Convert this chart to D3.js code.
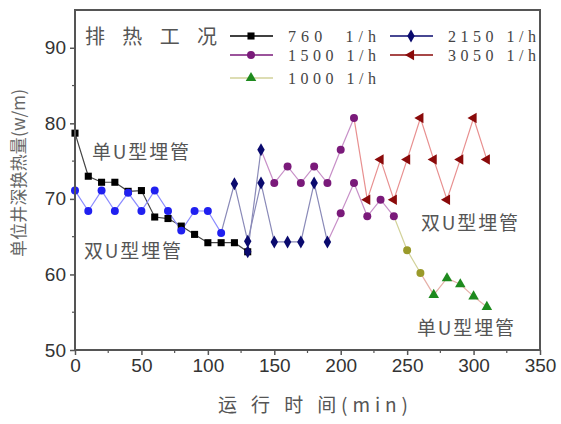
<!DOCTYPE html>
<html><head><meta charset="utf-8">
<script src="https://cdn.jsdelivr.net/npm/d3@7"></script>
<style>body{margin:0;background:#fff}</style>
</head><body>
<svg id="c" width="561" height="424"></svg>
<script>
// ---- data ----
const xTicks = [0,50,100,150,200,250,300,350];
const yTicks = [50,60,70,80,90];

const t760 = [0,10,20,30,40,50,60,70,80,90,100,110,120,130];
const v760 = [78.7,73.0,72.2,72.2,71.0,71.1,67.6,67.4,66.4,65.3,64.2,64.2,64.2,63.0];

const tDouble = [0,10,20,30,40,50,60,70,80,90,100,110];
const vDouble = [71.1,68.4,71.1,68.4,70.8,68.4,71.1,68.4,65.8,68.4,68.4,65.5];

const t2150a = [110,120,130,140,150,160,170,180,190];
const v2150a = [65.5,72.0,64.4,72.1,64.3,64.3,64.3,72.1,64.3];
const t2150b = [130,140];
const v2150b = [63.0,76.5];

const t1500a = [140,150,160,170,180,190,200,210];
const v1500a = [76.5,72.1,74.3,72.1,74.3,72.1,76.5,80.7];
const t1500b = [190,200,210,220,230,240];
const v1500b = [64.3,68.1,72.1,67.7,69.9,67.7];

const tOlive = [240,250,260];
const vOlive = [67.7,63.2,60.2];

const t1000 = [260,270,280,290,300,310];
const v1000 = [60.2,57.3,59.5,58.7,57.1,55.7];

const t3050 = [210,220,230,240,250,260,270,280,290,300,310];
const v3050 = [80.7,69.9,75.2,69.9,75.2,80.7,75.2,69.9,75.2,80.7,75.2];

const legendNames = ["760  1/h","2150 1/h","1500 1/h","3050 1/h","1000 1/h"];

// ---- chart ----
const svg = d3.select("#c");
const x = d3.scaleLinear().domain([0,350]).range([75,540]);
const y = d3.scaleLinear().domain([50,95]).range([350,10]);
const axisCol = "#555";
const cjk = "Noto Sans CJK SC";

const series = [
  {t:t760, v:v760, line:"#444", fill:"#000", shape:"square", skipFirst:false},
  {t:t2150a, v:v2150a, line:"#8a8ab8", fill:"#0a0a6e", shape:"diamond", skipFirst:true},
  {t:t2150b, v:v2150b, line:"#8a8ab8", fill:"#0a0a6e", shape:"diamond", skipFirst:false},
  {t:tDouble, v:vDouble, line:"#8c8cff", fill:"#2020f0", shape:"circle", skipFirst:false},
  {t:t1500a, v:v1500a, line:"#c890c8", fill:"#7a1a7a", shape:"circle", skipFirst:true},
  {t:t1500b, v:v1500b, line:"#c890c8", fill:"#7a1a7a", shape:"circle", skipFirst:true},
  {t:tOlive, v:vOlive, line:"#d2d29a", fill:"#9a9a2a", shape:"circle", skipFirst:true},
  {t:t1000, v:v1000, line:"#e6b0a8", fill:"#1e8a1e", shape:"triangle", skipFirst:true},
  {t:t3050, v:v3050, line:"#e89090", fill:"#8a0a0a", shape:"ltriangle", skipFirst:true}
];

const shapes = {
  square: d3.symbol(d3.symbolSquare, 50),
  diamond: d3.symbol(d3.symbolDiamond, 48),
  circle: d3.symbol(d3.symbolCircle, 50),
  triangle: d3.symbol(d3.symbolTriangle, 48),
  ltriangle: d3.symbol(d3.symbolTriangle, 48)
};

const line = d3.line().x(d=>x(d[0])).y(d=>y(d[1]));
series.forEach(s=>{
  const pts = s.t.map((t,i)=>[t,s.v[i]]);
  svg.append("path").attr("d", line(pts)).attr("fill","none")
    .attr("stroke", s.line).attr("stroke-width",1.2);
});
series.forEach(s=>{
  const pts = s.t.map((t,i)=>[t,s.v[i]]).filter((p,i)=>!(s.skipFirst && i===0));
  svg.selectAll(null).data(pts).enter().append("path")
    .attr("d", shapes[s.shape])
    .attr("transform", d=>`translate(${x(d[0])},${y(d[1])})` + (s.shape==="ltriangle"?" rotate(-90)":""))
    .attr("fill", s.fill);
});

// frame
svg.append("rect").attr("x",75).attr("y",10).attr("width",465).attr("height",340)
  .attr("fill","none").attr("stroke",axisCol).attr("stroke-width",2);

// axes
const xAxis = d3.axisBottom(x).tickValues(xTicks).tickSize(5).tickSizeOuter(0).tickPadding(4);
const gx = svg.append("g").attr("transform","translate(0,350)").call(xAxis);
const yAxis = d3.axisLeft(y).tickValues(yTicks).tickSize(5).tickSizeOuter(0).tickPadding(4);
const gy = svg.append("g").attr("transform","translate(75,0)").call(yAxis);
[gx,gy].forEach(g=>{
  g.select(".domain").remove();
  g.selectAll("line").attr("stroke",axisCol).attr("stroke-width",1.5);
  g.selectAll("text").attr("fill","#333").style("font-family","Liberation Sans, Arial, sans-serif").style("font-size","19px");
});
// minor ticks
svg.append("g").selectAll("line").data(d3.range(25,350,50)).enter().append("line")
  .attr("x1",d=>x(d)).attr("x2",d=>x(d)).attr("y1",350).attr("y2",353)
  .attr("stroke",axisCol).attr("stroke-width",1.2);
svg.append("g").selectAll("line").data([55,65,75,85]).enter().append("line")
  .attr("y1",d=>y(d)).attr("y2",d=>y(d)).attr("x1",72).attr("x2",75)
  .attr("stroke",axisCol).attr("stroke-width",1.2);

// axis titles
svg.append("text").attr("x",218).attr("y",412)
  .attr("fill","#555").style("font-family",cjk).style("font-size","19px")
  .attr("textLength",190).attr("lengthAdjust","spacing")
  .text("运 行 时 间(min)");
svg.append("text").attr("transform","translate(25,257) rotate(-90)")
  .attr("fill","#666").style("font-family",cjk).style("font-size","17px")
  .attr("textLength",168).attr("lengthAdjust","spacing")
  .text("单位井深换热量(w/m)");

// legend
const lg = svg.append("g");
lg.append("text").attr("x",85).attr("y",44).attr("fill","#555")
  .style("font-family",cjk).style("font-size","20px")
  .attr("textLength",132).attr("lengthAdjust","spacing").text("排 热 工 况");
const legendItems = [
  {s:series[0], lx:230, ly:36},
  {s:series[1], lx:390, ly:36},
  {s:series[4], lx:230, ly:55},
  {s:series[8], lx:390, ly:55},
  {s:series[7], lx:230, ly:78}
];
legendItems.forEach((it,i)=>{
  const col = i===4 ? "#d2d29a" : (i===0?"#000":it.s.fill);
  lg.append("line").attr("x1",it.lx).attr("x2",it.lx+43).attr("y1",it.ly).attr("y2",it.ly)
    .attr("stroke",col).attr("stroke-width",1.5);
  lg.append("path").attr("d",shapes[it.s.shape])
    .attr("transform",`translate(${it.lx+21},${it.ly})`+(it.s.shape==="ltriangle"?" rotate(-90)":""))
    .attr("fill",it.s.fill);
  lg.append("text").attr("x",it.lx+58).attr("y",it.ly+6).attr("fill","#444")
    .style("font-family","Liberation Serif").style("font-size","16px")
    .attr("textLength",88).attr("lengthAdjust","spacing")
    .style("white-space","pre").text(legendNames[i]);
});

// annotations
const ann = [
  {t:"单U型埋管", x:92, y:159},
  {t:"双U型埋管", x:84, y:258},
  {t:"双U型埋管", x:421, y:230},
  {t:"单U型埋管", x:417, y:335}
];
ann.forEach(a=>svg.append("text").attr("x",a.x).attr("y",a.y).attr("fill","#555")
  .style("font-family",cjk).style("font-size","19px")
  .attr("textLength",97).attr("lengthAdjust","spacing").text(a.t));
</script>
</body></html>
